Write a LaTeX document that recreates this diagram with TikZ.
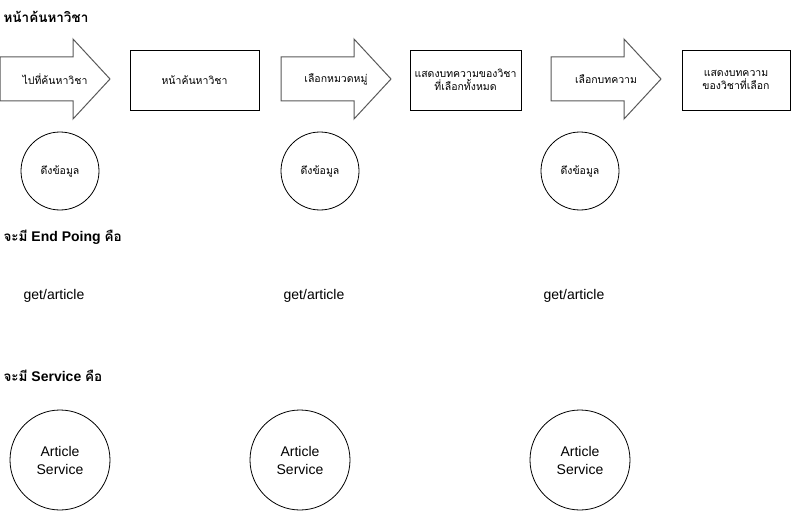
\documentclass[tikz,border=0pt]{standalone}
\usepackage{fontspec}
\setmainfont{Liberation Sans}
\newfontfamily\thaifont[Script=Thai]{Loma}
\newcommand{\thaihead}{\thaifont\fontsize{13.5}{17}\selectfont}
\usetikzlibrary{positioning}

\newcommand{\flowarrow}[3]{% name, left x, text
  \draw[flow] (#2,57) -- ++(73,0) -- ++(0,-18) -- ++(37,40) -- ++(-37,40) -- ++(0,-18) -- ++(-73,0) -- cycle;
  \node[flowtxt] (#1) at (#2+55,79) {#3};
}

\begin{document}
\begin{tikzpicture}[x=1pt, y=-1pt,
  flow/.style={draw=black!65, line width=1pt, fill=white},
  flowtxt/.style={font=\thaifont\fontsize{10.5}{13}\selectfont, align=center},
  page/.style={draw, line width=0.8pt, minimum height=60pt, align=center, font=\thaifont\fontsize{10.5}{13}\selectfont},
  fetch/.style={draw, circle, line width=0.8pt, minimum size=78pt, inner sep=0pt, font=\thaifont\fontsize{10.5}{13}\selectfont},
  svc/.style={draw, circle, line width=0.8pt, minimum size=100pt, inner sep=0pt, align=center, font=\fontsize{14}{18}\selectfont},
  api/.style={font=\fontsize{14}{17}\selectfont},
  head/.style={font=\bfseries\fontsize{14}{17}\selectfont, anchor=west}
]
\useasboundingbox (0,0) rectangle (801,511);

%% Headings
\node[head] (hsearch) at (0,17) {\thaihead หน้าค้นหาวิชา};
\node[head] (hapi) at (0,237) {{\thaihead จะมี} End Poing {\thaihead คือ}};
\node[head] (hsvc) at (0,376) {{\thaihead จะมี} Service {\thaihead คือ}};

%% Flow: action arrows and pages
\flowarrow{go}{0}{ไปที่ค้นหาวิชา}
\node[page, minimum width=129pt] (psearch) at (194.5,80) {หน้าค้นหาวิชา};
\flowarrow{pick}{281}{เลือกหมวดหมู่}
\node[page, minimum width=111pt] (plist) at (465.5,80) {แสดงบทความของวิชา\\ที่เลือกทั้งหมด};
\flowarrow{read}{551}{เลือกบทความ}
\node[page, minimum width=108pt] (pview) at (736,80) {แสดงบทความ\\ของวิชาที่เลือก};

%% Data fetch, end points and services
\foreach \n/\x/\s in {1/60/60, 2/320/300, 3/580/580} {
  \node[fetch] (fetch\n) at (\x,171) {ดึงข้อมูล};
  \node[api] (api\n) at (\x-6,296) {get/article};
  \node[svc] (svc\n) at (\s,460) {Article\\Service};
}
\end{tikzpicture}
\end{document}
